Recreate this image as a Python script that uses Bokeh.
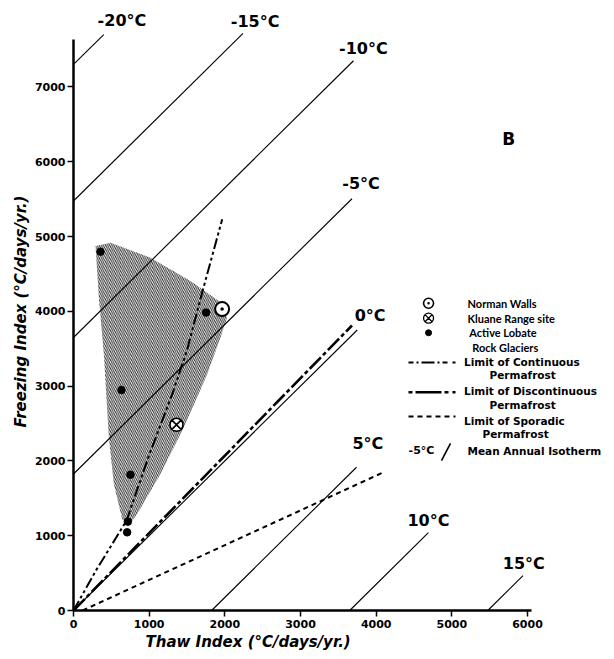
from bokeh.plotting import figure
from bokeh.models import FixedTicker, Range1d, Title
from bokeh.core.properties import value
from bokeh.embed import file_html
from bokeh.resources import INLINE

# ---------------- data ----------------
# Mean annual isotherms (start / end points, thaw index, freezing index)
iso_temps = ["-20°C", "-15°C", "-10°C", "-5°C", "0°C", "5°C", "10°C", "15°C"]
iso_x0 = [0, 0, 0, 0, 0, 1825, 3650, 5475]
iso_y0 = [7300, 5475, 3650, 1825, 0, 0, 0, 0]
iso_x1 = [400, 2240, 3700, 3680, 3750, 3740, 4690, 5940]
iso_y1 = [7700, 7715, 7350, 5505, 3750, 1915, 1040, 465]
iso_lab_x = [640, 2400, 3830, 3800, 3920, 3890, 4690, 5950]
iso_lab_y = [7890, 7880, 7510, 5710, 3940, 2230, 1200, 630]

# Limit of continuous permafrost
cont_thaw = [0, 300, 700, 1000, 1300, 1500, 1700, 1965]
cont_freeze = [0, 540, 1200, 2080, 2880, 3480, 4250, 5230]
# Limit of discontinuous permafrost
disc_thaw = [0, 3680]
disc_freeze = [0, 3810]
# Limit of sporadic permafrost
spor_thaw = [120, 4100]
spor_freeze = [0, 1850]

# Shaded envelope of active lobate rock glaciers
env_thaw = [291, 335, 401, 467, 533, 643, 731, 841, 1149, 1457, 1766, 1942,
            2030, 1920, 1546, 1017, 489]
env_freeze = [4873, 4183, 3427, 2314, 1691, 1224, 1135, 1291, 1825, 2447, 3160,
              3649, 3916, 4139, 4406, 4717, 4917]

# Sites
norman_thaw = [1964]
norman_freeze = [4030]
kluane_thaw = [1361]
kluane_freeze = [2483]
glacier_thaw = [357, 634, 753, 718, 709, 1752]
glacier_freeze = [4797, 2947, 1816, 1188, 1045, 3983]

x_ticks = [0, 1000, 2000, 3000, 4000, 5000, 6000]
y_ticks = [0, 1000, 2000, 3000, 4000, 5000, 6000, 7000]

FONT = "DejaVu Sans"

# ---------------- figure ----------------
p = figure(width=612, height=654, output_backend="svg", toolbar_location=None,
           x_range=Range1d(0, 7070), y_range=Range1d(0, 7995),
           min_border_left=73, min_border_right=4, min_border_top=12,
           min_border_bottom=44)
p.outline_line_color = None
p.grid.visible = False
p.background_fill_color = "white"

for ax, ticks, bnd in ((p.xaxis, x_ticks, (0, 6050)), (p.yaxis, y_ticks, (0, 7640))):
    ax.ticker = FixedTicker(ticks=ticks)
    ax.bounds = bnd
    ax.axis_line_width = 2.5
    ax.axis_line_color = "black"
    ax.major_tick_line_width = 1.5
    ax.major_tick_out = 6
    ax.major_tick_in = 0
    ax.minor_tick_line_color = None
    ax.major_label_text_font = FONT
    ax.major_label_text_font_style = "bold"
    ax.major_label_text_font_size = "11px"
    ax.major_label_text_color = "black"
    ax.axis_label_text_font = FONT
    ax.axis_label_text_font_style = "bold italic"
    ax.axis_label_text_font_size = "15px"
    ax.axis_label_text_color = "black"
p.yaxis.axis_label = "Freezing Index (°C/days/yr.)"
p.xaxis.major_label_standoff = 3
p.yaxis.major_label_standoff = 2
p.yaxis.axis_label_standoff = 2

# x-axis title, placed under the left part of the axis as in the original
p.add_layout(Title(text="Thaw Index (°C/days/yr.)", text_font=FONT,
                   text_font_style="bold italic", text_font_size="15px",
                   align="left", offset=72, standoff=1, text_color="black"), "below")

# isotherms
p.segment(x0=iso_x0, y0=iso_y0, x1=iso_x1, y1=iso_y1, line_color="black", line_width=1.1)
p.text(x=iso_lab_x, y=iso_lab_y, text=iso_temps, text_font=value(FONT),
       text_font_style="bold", text_font_size="16px", text_align="center",
       text_baseline="middle", text_color="black")

# shaded envelope
p.patch(x=env_thaw, y=env_freeze, fill_color=None, line_color=None,
        hatch_pattern="\\", hatch_color="black", hatch_scale=4.2, hatch_weight=1.0,
        hatch_alpha=0.85)

# permafrost limits
p.line(x=cont_thaw, y=cont_freeze, line_color="black", line_width=2,
       line_dash="11 3 3 3 3 3")
p.line(x=disc_thaw, y=disc_freeze, line_color="black", line_width=2.6,
       line_dash="16 3 4 3")
p.line(x=spor_thaw, y=spor_freeze, line_color="black", line_width=2,
       line_dash="5 4")

# sites
p.scatter(x=glacier_thaw, y=glacier_freeze, marker="circle", size=7.5,
          fill_color="black", line_color="black")
p.scatter(x=norman_thaw, y=norman_freeze, marker="circle_dot", size=14,
          fill_color="white", line_color="black", line_width=2)
p.scatter(x=kluane_thaw, y=kluane_freeze, marker="circle_x", size=13,
          fill_color="white", line_color="black", line_width=1.6)

# panel letter
p.text(x=[5750], y=[6300], text=["B"], text_font=value(FONT), text_font_style="bold",
       text_font_size="17px", text_align="center", text_baseline="middle")

# ---------------- legend (drawn manually) ----------------
leg_mx = 4692
p.scatter(x=[leg_mx], y=[4108], marker="circle_dot", size=10, fill_color="white",
          line_color="black", line_width=1.6)
p.scatter(x=[leg_mx], y=[3908], marker="circle_x", size=10, fill_color="white",
          line_color="black", line_width=1.3)
p.scatter(x=[leg_mx], y=[3713], marker="circle", size=6, fill_color="black",
          line_color="black")
p.line(x=[4427, 5048], y=[3316, 3316], line_color="black", line_width=2,
       line_dash="5 3 2 3 13 3 2 3 5")
p.line(x=[4427, 5048], y=[2918, 2918], line_color="black", line_width=2.6,
       line_dash="4 3 26 3 4")
p.line(x=[4427, 5048], y=[2594, 2594], line_color="black", line_width=2,
       line_dash="5 4")
p.segment(x0=[4863], y0=[2005], x1=[4982], y1=[2233], line_color="black", line_width=1.6)

leg_text_a = ["Norman Walls", "Kluane Range site", "Active Lobate", "Rock Glaciers"]
leg_x_a = [5207, 5207, 5230, 5269]
leg_y_a = [4108, 3908, 3713, 3520]
p.text(x=leg_x_a, y=leg_y_a, text=leg_text_a, text_font=value("Lato"),
       text_font_style="bold", text_font_size="11px", text_align="left",
       text_baseline="middle")

leg_text_b = ["Limit of Continuous", "Permafrost", "Limit of Discontinuous",
              "Permafrost", "Limit of Sporadic", "Permafrost", "Mean Annual Isotherm"]
leg_x_b = [5160, 5498, 5160, 5498, 5160, 5405, 5207]
leg_y_b = [3329, 3142, 2928, 2741, 2540, 2366, 2139]
p.text(x=leg_x_b, y=leg_y_b, text=leg_text_b, text_font=value(FONT),
       text_font_style="bold", text_font_size="10.5px", text_align="left",
       text_baseline="middle")
p.text(x=[4599], y=[2139], text=["-5°C"], text_font=value(FONT), text_font_style="bold",
       text_font_size="11px", text_align="center", text_baseline="middle")

open("out.html", "w").write(file_html(p, INLINE))
